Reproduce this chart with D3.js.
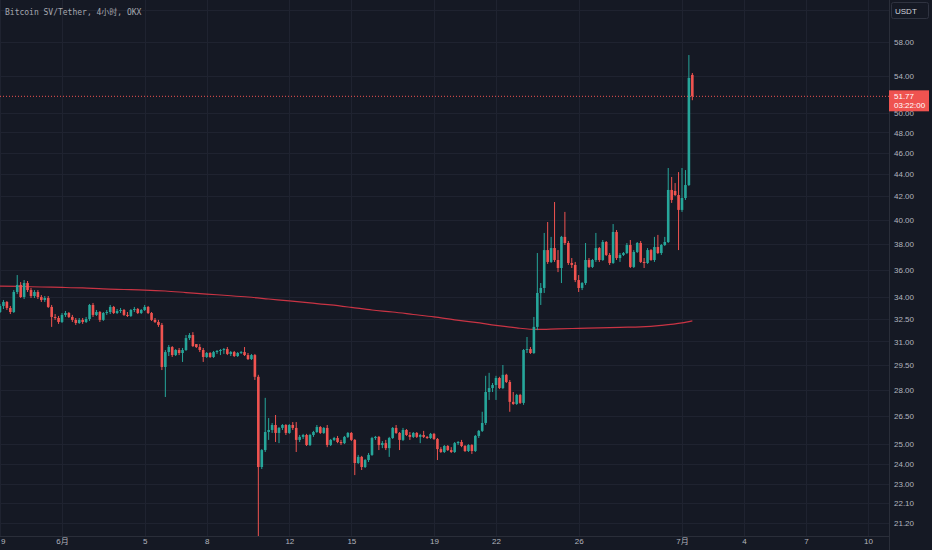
<!DOCTYPE html>
<html>
<head>
<meta charset="utf-8">
<script src="https://cdn.jsdelivr.net/npm/d3@7"></script>
<style>
  html, body { margin: 0; padding: 0; background: #151924; }
  svg { display: block; }
</style>
</head>
<body>
<svg id="chart"></svg>
<script>
const width = 932;
const height = 550;
const plotRight = 889;
const plotBottom = 536;

// 4h candles, first one starts 2023-05-29 00:00 (UTC)
const startTime = Date.UTC(2023, 4, 29);
const barMs = 4 * 3600 * 1000;

// one row = one day (6 bars)
const openP = [
    32.97, 33.39, 33.67, 33.25, 32.97, 34.38,
    34.89, 34.02, 35.03, 34.52, 34.09, 34.38,
    34.02, 33.81, 33.95, 33.32, 32.63, 32.56,
    32.29, 32.77, 32.90, 32.63, 32.43, 32.22,
    32.43, 32.29, 32.49, 33.46, 32.77, 32.97,
    32.43, 32.90, 32.97, 33.32, 32.90, 33.04,
    33.11, 32.77, 32.70, 33.11, 33.18, 32.90,
    33.11, 33.32, 32.90, 32.43, 32.29, 32.09,
    29.39, 30.32, 30.64, 30.13, 30.45, 30.26,
    30.45, 31.22, 31.42, 30.83, 30.64, 30.45,
    30.01, 30.26, 30.01, 30.32, 30.39, 30.45,
    30.51, 30.20, 30.32, 30.07, 30.26, 30.32,
    30.13, 29.88, 30.13, 28.79, 23.84, 24.70,
    25.65, 25.76, 26.03, 25.60, 25.87, 26.03,
    25.60, 26.03, 25.87, 25.23, 25.39, 25.49,
    24.96, 25.49, 25.65, 25.92, 25.60, 25.87,
    24.96, 25.23, 25.33, 25.12, 25.06, 25.39,
    25.60, 25.23, 24.04, 24.35, 23.84, 24.19,
    24.45, 25.33, 25.39, 24.96, 25.06, 24.80,
    25.33, 25.87, 25.60, 25.23, 25.76, 25.49,
    25.39, 25.60, 25.39, 25.49, 25.39, 25.33,
    25.55, 25.28, 24.75, 24.60, 24.91, 24.70,
    24.60, 25.06, 25.12, 24.91, 24.65, 24.96,
    24.65, 25.44, 25.71, 26.14, 27.89, 28.12,
    28.30, 28.72, 28.12, 28.91, 28.48, 27.32,
    27.20, 27.72, 27.26, 30.45, 30.51, 30.26,
    31.96, 34.31, 34.67, 37.53, 36.61, 37.69,
    36.76, 36.15, 38.58, 38.09, 36.53, 36.38,
    35.25, 34.67, 35.03, 36.76, 36.23, 36.76,
    37.69, 36.76, 38.17, 37.15, 36.53, 38.98,
    36.91, 37.15, 37.30, 37.93, 36.23, 37.38,
    38.09, 36.61, 36.53, 37.53, 36.76, 37.77,
    37.30, 37.93, 38.17, 42.56, 42.47, 42.11,
    40.82, 41.85, 43.00, 54.14,
];
const highP = [
    33.53, 33.81, 33.74, 33.39, 34.52, 35.62,
    35.10, 35.25, 35.18, 34.67, 34.52, 34.52,
    34.16, 34.09, 34.09, 33.46, 32.83, 32.70,
    32.90, 33.04, 32.97, 32.77, 32.56, 32.56,
    32.56, 32.63, 33.53, 33.60, 33.11, 33.04,
    32.97, 33.11, 33.46, 33.39, 33.18, 33.25,
    33.18, 32.97, 33.18, 33.32, 33.25, 33.18,
    33.46, 33.39, 32.97, 32.56, 32.43, 32.22,
    30.45, 30.77, 30.70, 30.51, 30.58, 30.58,
    31.42, 31.55, 31.61, 30.83, 30.83, 30.58,
    30.32, 30.32, 30.39, 30.45, 30.51, 30.58,
    30.64, 30.39, 30.39, 30.32, 30.39, 30.64,
    30.26, 30.20, 30.20, 28.91, 24.75, 27.55,
    26.41, 26.14, 26.58, 25.92, 26.08, 26.08,
    26.08, 26.19, 26.19, 25.49, 25.55, 25.55,
    25.55, 25.71, 26.03, 25.97, 25.92, 26.03,
    25.28, 25.39, 25.44, 25.23, 25.44, 25.65,
    25.65, 25.28, 24.45, 24.40, 24.24, 24.55,
    25.39, 25.44, 25.44, 25.17, 25.23, 25.39,
    25.92, 26.03, 25.65, 25.87, 25.81, 25.65,
    25.65, 25.65, 25.55, 25.71, 25.44, 25.60,
    25.60, 25.33, 24.85, 24.96, 24.96, 24.85,
    25.12, 25.17, 25.23, 24.96, 25.01, 25.01,
    25.49, 25.76, 26.76, 28.85, 29.03, 28.42,
    28.85, 28.79, 29.51, 28.97, 28.60, 27.89,
    27.78, 27.78, 30.51, 31.29, 30.64, 32.63,
    37.30, 35.03, 38.90, 39.80, 38.58, 41.50,
    37.53, 38.66, 40.65, 38.25, 36.91, 36.61,
    35.62, 35.10, 38.09, 36.91, 36.84, 38.90,
    37.77, 38.33, 38.25, 37.30, 39.63, 39.14,
    37.30, 37.38, 38.09, 38.33, 37.53, 38.17,
    38.25, 36.91, 37.69, 37.61, 38.58, 38.74,
    38.01, 38.58, 44.56, 43.73, 43.18, 44.18,
    44.56, 44.37, 56.44, 54.36,
];
const lowP = [
    32.90, 33.18, 33.11, 32.83, 32.90, 34.23,
    33.95, 33.88, 34.38, 33.95, 33.95, 33.88,
    33.67, 33.67, 33.25, 31.96, 32.43, 32.16,
    32.22, 32.63, 32.56, 32.29, 32.09, 32.16,
    32.16, 32.22, 32.36, 32.63, 32.70, 32.29,
    32.36, 32.77, 32.83, 32.83, 32.83, 32.90,
    32.70, 32.63, 32.63, 32.97, 32.83, 32.83,
    33.04, 32.83, 32.36, 32.22, 31.96, 29.20,
    27.60, 30.07, 30.01, 30.07, 30.13, 29.70,
    30.39, 31.09, 30.64, 30.58, 30.32, 29.70,
    29.95, 29.95, 29.95, 30.20, 30.13, 30.20,
    30.13, 30.07, 30.01, 30.01, 30.20, 30.07,
    29.82, 29.82, 28.60, 20.50, 23.74, 24.60,
    25.23, 25.60, 25.12, 25.06, 25.76, 25.49,
    25.55, 25.76, 24.60, 25.12, 25.28, 24.91,
    24.91, 25.39, 25.60, 25.55, 25.55, 24.85,
    24.91, 25.17, 25.06, 24.96, 25.01, 25.33,
    25.17, 23.44, 23.99, 23.69, 23.79, 24.09,
    24.40, 25.23, 24.70, 24.80, 24.70, 24.35,
    25.28, 25.55, 24.70, 25.17, 25.44, 25.23,
    25.33, 25.33, 25.06, 25.33, 25.28, 25.28,
    25.23, 24.19, 24.55, 24.55, 24.65, 24.55,
    24.55, 24.96, 24.85, 24.60, 24.60, 24.50,
    24.60, 25.33, 25.65, 26.03, 27.43, 27.89,
    27.43, 28.06, 28.06, 28.42, 26.76, 27.15,
    27.15, 27.20, 27.15, 30.26, 30.20, 30.20,
    31.74, 33.46, 34.31, 36.46, 36.53, 36.61,
    35.84, 35.03, 37.93, 36.38, 36.15, 35.10,
    34.38, 34.52, 34.89, 36.15, 36.15, 36.61,
    36.61, 36.69, 37.07, 36.38, 36.46, 36.76,
    36.61, 37.07, 37.22, 36.15, 36.15, 37.30,
    36.53, 36.15, 36.46, 36.69, 36.61, 37.22,
    37.15, 37.85, 38.09, 41.42, 42.03, 37.53,
    40.65, 41.68, 42.91, 51.35,
];
const closeP = [
    33.39, 33.67, 33.25, 32.97, 34.38, 34.89,
    34.02, 35.03, 34.52, 34.09, 34.38, 34.02,
    33.81, 33.95, 33.32, 32.63, 32.56, 32.29,
    32.77, 32.90, 32.63, 32.43, 32.22, 32.43,
    32.29, 32.49, 33.46, 32.77, 32.97, 32.43,
    32.90, 32.97, 33.32, 32.90, 33.04, 33.11,
    32.77, 32.70, 33.11, 33.18, 32.90, 33.11,
    33.32, 32.90, 32.43, 32.29, 32.09, 29.39,
    30.32, 30.64, 30.13, 30.45, 30.26, 30.45,
    31.22, 31.42, 30.70, 30.64, 30.45, 30.01,
    30.26, 30.01, 30.32, 30.39, 30.45, 30.51,
    30.20, 30.32, 30.07, 30.26, 30.32, 30.13,
    29.88, 30.13, 28.79, 23.84, 24.70, 25.65,
    25.76, 26.03, 25.60, 25.87, 26.03, 25.60,
    26.03, 25.87, 25.23, 25.39, 25.49, 24.96,
    25.49, 25.65, 25.92, 25.60, 25.87, 24.96,
    25.23, 25.33, 25.12, 25.06, 25.39, 25.60,
    25.23, 24.04, 24.35, 23.84, 24.19, 24.45,
    25.33, 25.39, 24.96, 25.06, 24.80, 25.33,
    25.87, 25.60, 25.23, 25.76, 25.49, 25.39,
    25.60, 25.39, 25.49, 25.39, 25.33, 25.55,
    25.28, 24.75, 24.60, 24.91, 24.70, 24.60,
    25.06, 25.12, 24.91, 24.65, 24.96, 24.65,
    25.44, 25.71, 26.14, 27.89, 28.12, 28.30,
    28.72, 28.12, 28.91, 28.48, 27.32, 27.20,
    27.72, 27.26, 30.45, 30.51, 30.26, 31.96,
    34.31, 34.67, 37.53, 36.61, 37.69, 36.76,
    36.15, 38.58, 38.09, 36.53, 36.38, 35.25,
    34.67, 35.03, 36.76, 36.23, 36.76, 37.69,
    36.76, 38.17, 37.15, 36.53, 38.98, 36.91,
    37.15, 37.30, 37.93, 36.23, 37.38, 38.09,
    36.61, 36.53, 37.53, 36.76, 37.77, 37.30,
    37.93, 38.17, 42.56, 41.68, 42.11, 40.82,
    41.85, 43.00, 53.80, 51.77,
];

// moving average, read once a day (every 6th bar) plus the last bar
const maValues = [
    34.81, 34.78, 34.74, 34.71, 34.67, 34.60, 34.56, 34.52, 34.45, 34.34,
    34.23, 34.13, 34.02, 33.88, 33.74, 33.60, 33.46, 33.29, 33.11, 32.97,
    32.80, 32.63, 32.43, 32.26, 32.06, 31.89, 31.79, 31.83, 31.86, 31.89,
    31.93, 31.96, 32.06, 32.23, 32.37,
];

const priceTicks = [58, 54, 50, 48, 46, 44, 42, 40, 38, 36, 34, 32.5, 31, 29.5, 28, 26.5, 25, 24, 23, 22.1, 21.2];
const gridOnlyTicks = [62];
const timeTicks = [
    Date.UTC(2023, 4, 29), Date.UTC(2023, 5, 1), Date.UTC(2023, 5, 5), Date.UTC(2023, 5, 8),
    Date.UTC(2023, 5, 12), Date.UTC(2023, 5, 15), Date.UTC(2023, 5, 19), Date.UTC(2023, 5, 22),
    Date.UTC(2023, 5, 26), Date.UTC(2023, 6, 1), Date.UTC(2023, 6, 4), Date.UTC(2023, 6, 7),
    Date.UTC(2023, 6, 10),
];
// the first label ("29") only shows its last digit at the left edge
const timeLabels = ["9", "6月", "5", "8", "12", "15", "19", "22", "26", "7月", "4", "7", "10"];

const lastPrice = 51.77;
const countdown = "03:22:00";
const title = "Bitcoin SV/Tether, 4小时, OKX";

const upColor = "#26a69a";
const downColor = "#ef5350";
const gridColor = "#1f2330";
const textColor = "#b2b5be";
const axisFont = "Liberation Sans, Arial, sans-serif";

const bars = closeP.map((c, k) => ({
    t: new Date(startTime + k * barMs),
    o: openP[k],
    h: highP[k],
    l: lowP[k],
    c: c,
}));
const maData = maValues.map((v, k) => {
    const idx = k < maValues.length - 1 ? k * 6 : bars.length - 1;
    return { t: bars[idx].t, v };
});

const x = d3.scaleTime()
    .domain([new Date(Date.UTC(2023, 5, 1)), new Date(Date.UTC(2023, 6, 1))])
    .range([62, 682]);
const y = d3.scaleLog()
    .domain([21.2, 58])
    .range([523.1, 42]);

const svg = d3.select("#chart")
    .attr("width", width)
    .attr("height", height)
    .style("background", "#151924");

svg.append("defs").append("clipPath")
    .attr("id", "plot-clip")
    .append("rect")
    .attr("x", 0).attr("y", 0)
    .attr("width", plotRight).attr("height", plotBottom);

// grid
const grid = svg.append("g").attr("clip-path", "url(#plot-clip)");
grid.selectAll(".hgrid")
    .data(priceTicks.concat(gridOnlyTicks))
    .join("line")
    .attr("x1", 0).attr("x2", plotRight)
    .attr("y1", (d) => Math.round(y(d)) + 0.5)
    .attr("y2", (d) => Math.round(y(d)) + 0.5)
    .attr("stroke", gridColor);
grid.selectAll(".vgrid")
    .data(timeTicks)
    .join("line")
    .attr("x1", (d) => Math.round(x(d)) + 0.5)
    .attr("x2", (d) => Math.round(x(d)) + 0.5)
    .attr("y1", 0).attr("y2", plotBottom)
    .attr("stroke", gridColor);

// title
svg.append("text")
    .attr("x", 5)
    .attr("y", 14.5)
    .attr("fill", "#a5a8b0")
    .style("font-family", "DejaVu Sans Mono, Noto Sans CJK SC, monospace")
    .style("font-size", "8px")
    .text(title);

const plot = svg.append("g").attr("clip-path", "url(#plot-clip)");

// moving average
plot.append("path")
    .datum(maData)
    .attr("fill", "none")
    .attr("stroke", "#c93444")
    .attr("stroke-width", 1.2)
    .attr("d", d3.line().x((d) => x(d.t)).y((d) => y(d.v)).curve(d3.curveMonotoneX));

// candles
const candle = plot.selectAll(".candle")
    .data(bars)
    .join("g")
    .attr("class", "candle");
const colorOf = (d) => (d.c >= d.o ? upColor : downColor);
candle.append("line")
    .attr("x1", (d) => x(d.t))
    .attr("x2", (d) => x(d.t))
    .attr("y1", (d) => y(d.h))
    .attr("y2", (d) => y(d.l))
    .attr("stroke", colorOf)
    .attr("stroke-width", 1);
candle.append("rect")
    .attr("x", (d) => x(d.t) - 1.3)
    .attr("width", 2.6)
    .attr("y", (d) => y(Math.max(d.o, d.c)))
    .attr("height", (d) => Math.max(1, Math.abs(y(d.o) - y(d.c))))
    .attr("fill", colorOf);

// last price dotted line
plot.append("line")
    .attr("x1", 0).attr("x2", plotRight)
    .attr("y1", y(lastPrice)).attr("y2", y(lastPrice))
    .attr("stroke", downColor)
    .attr("stroke-width", 1)
    .attr("stroke-dasharray", "1,2");

// axis borders
svg.append("line")
    .attr("x1", plotRight + 0.5).attr("x2", plotRight + 0.5)
    .attr("y1", 0).attr("y2", height)
    .attr("stroke", "#2a2e39");
svg.append("line")
    .attr("x1", 0).attr("x2", plotRight)
    .attr("y1", plotBottom + 0.5).attr("y2", plotBottom + 0.5)
    .attr("stroke", "#2a2e39");

// price axis
const yAxis = svg.append("g")
    .attr("transform", `translate(${plotRight}, 0)`)
    .call(d3.axisRight(y).tickValues(priceTicks).tickFormat(d3.format(".2f")).tickSize(0).tickPadding(5));
yAxis.select(".domain").remove();
yAxis.selectAll("text")
    .attr("fill", textColor)
    .style("font-family", axisFont)
    .style("font-size", "8px");

// time axis
const xAxis = svg.append("g")
    .attr("transform", `translate(0, ${plotBottom})`)
    .call(d3.axisBottom(x).tickValues(timeTicks.map((d) => new Date(d))).tickFormat((d, i) => timeLabels[i]).tickSize(0).tickPadding(2.5));
xAxis.select(".domain").remove();
xAxis.selectAll("text")
    .attr("fill", textColor)
    .style("font-family", axisFont + ", Noto Sans CJK SC")
    .style("font-size", "8px");
xAxis.selectAll("text")
    .filter((d, i) => i === 0)
    .attr("text-anchor", "start")
    .attr("x", 0.5);

// last price label
const labelY = y(lastPrice);
svg.append("rect")
    .attr("x", plotRight)
    .attr("y", labelY - 6)
    .attr("width", 40)
    .attr("height", 21)
    .attr("fill", "#ef5350");
svg.append("text")
    .attr("x", plotRight + 5)
    .attr("y", labelY + 2.8)
    .attr("fill", "#ffffff")
    .style("font-family", axisFont)
    .style("font-size", "8px")
    .text(d3.format(".2f")(lastPrice));
svg.append("text")
    .attr("x", plotRight + 5)
    .attr("y", labelY + 11.5)
    .attr("fill", "#ffffff")
    .style("font-family", axisFont)
    .style("font-size", "8px")
    .text(countdown);

// currency box
svg.append("rect")
    .attr("x", plotRight + 2.5)
    .attr("y", 2.5)
    .attr("width", 37)
    .attr("height", 16)
    .attr("rx", 2)
    .attr("fill", "#151924")
    .attr("stroke", "#2f3340");
svg.append("text")
    .attr("x", plotRight + 6)
    .attr("y", 13.5)
    .attr("fill", "#d1d4dc")
    .style("font-family", axisFont)
    .style("font-size", "8px")
    .text("USDT");
</script>
</body>
</html>
